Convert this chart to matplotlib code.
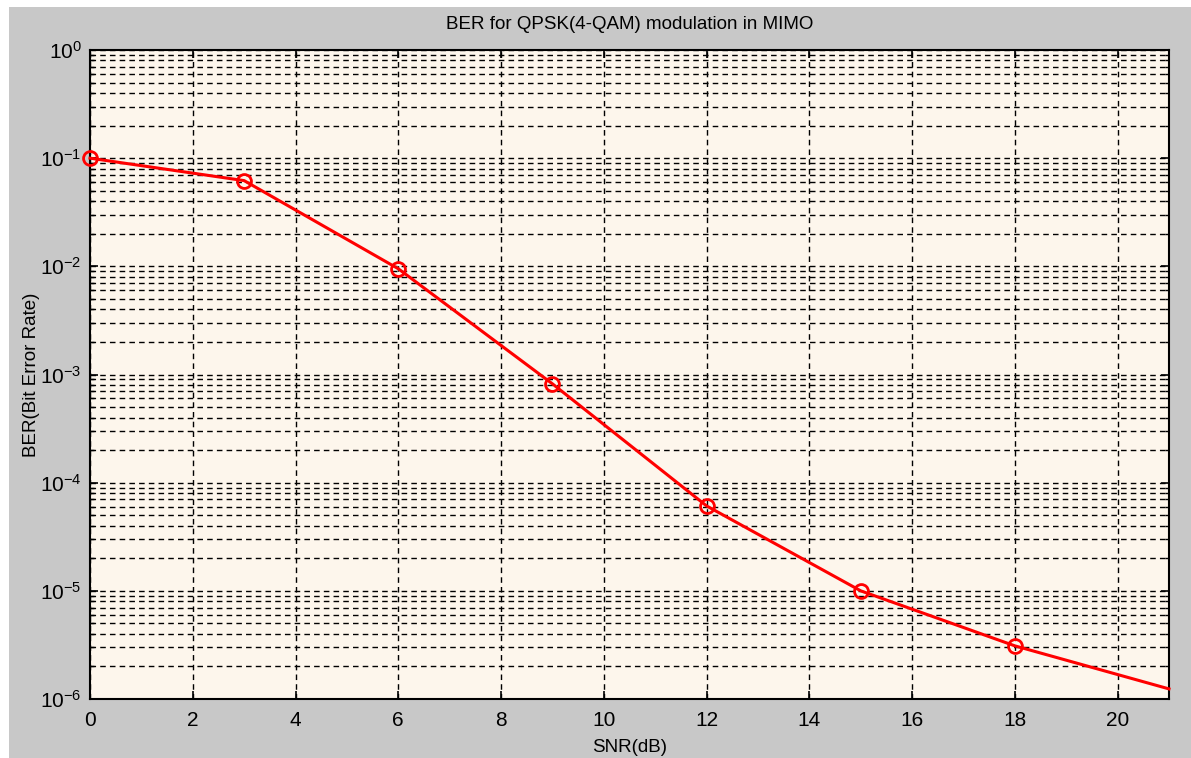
import matplotlib
matplotlib.use("Agg")
import matplotlib.pyplot as plt
from matplotlib.patches import Rectangle
from matplotlib.ticker import FixedLocator, NullFormatter

plt.rcParams['font.family'] = ['Liberation Sans', 'DejaVu Sans']
plt.rcParams['mathtext.fontset'] = 'custom'
plt.rcParams['mathtext.rm'] = 'Liberation Sans'
plt.rcParams['mathtext.it'] = 'Liberation Sans'

# data
snr = [0, 3, 6, 9, 12, 15, 18, 21]
ber = [0.1, 0.062, 9.5e-3, 8.2e-4, 6.1e-5, 1.0e-5, 3.1e-6, 1.24e-6]
xticks = [0, 2, 4, 6, 8, 10, 12, 14, 16, 18, 20]
decades = [-6, -5, -4, -3, -2, -1, 0]

fig = plt.figure(figsize=(11.91, 7.58), dpi=100, facecolor='white')
# grey window area (thin white strip at top and left)
fig.patches.append(Rectangle((9 / 1191, 0), 1 - 9 / 1191, 1 - 7 / 758, transform=fig.transFigure,
                             facecolor='#c8c8c8', edgecolor='none', zorder=-10))

ax = fig.add_axes([90 / 1191, 59 / 758, (1169 - 90) / 1191, (699 - 50) / 758])
ax.set_facecolor('#fdf6ec')

ax.semilogy(snr, ber, color='red', lw=2.2, marker='o', markersize=10,
            markerfacecolor='none', markeredgewidth=2, markevery=list(range(7)),
            clip_on=False, zorder=5)

ax.set_xlim(0, 21)
ax.set_ylim(1e-6, 1)
ax.set_xticks(xticks)
major = [10.0 ** d for d in decades]
minor = [m * 10.0 ** d for d in decades[:-1] for m in range(2, 10)]
ax.yaxis.set_major_locator(FixedLocator(major))
ax.set_yticklabels(['$10^{%d}$' % d for d in decades])
ax.yaxis.set_minor_locator(FixedLocator(minor))
ax.yaxis.set_minor_formatter(NullFormatter())

ax.grid(True, which='major', axis='both', color='black', linestyle=(0, (4, 3)), lw=1)
ax.grid(True, which='minor', axis='y', color='black', linestyle=(0, (4, 3)), lw=1)

ax.tick_params(which='both', direction='in', top=True, right=True, labelsize=15)
ax.tick_params(axis='x', pad=9)
ax.tick_params(axis='y', pad=6)
ax.tick_params(which='major', length=6, width=1.2)
ax.tick_params(which='minor', length=3, width=1)
for s in ax.spines.values():
    s.set_linewidth(1.5)

ax.set_title('BER for QPSK(4-QAM) modulation in MIMO', fontsize=13.5, pad=15)
ax.set_xlabel('SNR(dB)', fontsize=13.5, labelpad=6)
ax.set_ylabel('BER(Bit Error Rate)', fontsize=13.5, labelpad=0)

fig.savefig('out.png', dpi=100, facecolor=fig.get_facecolor())
